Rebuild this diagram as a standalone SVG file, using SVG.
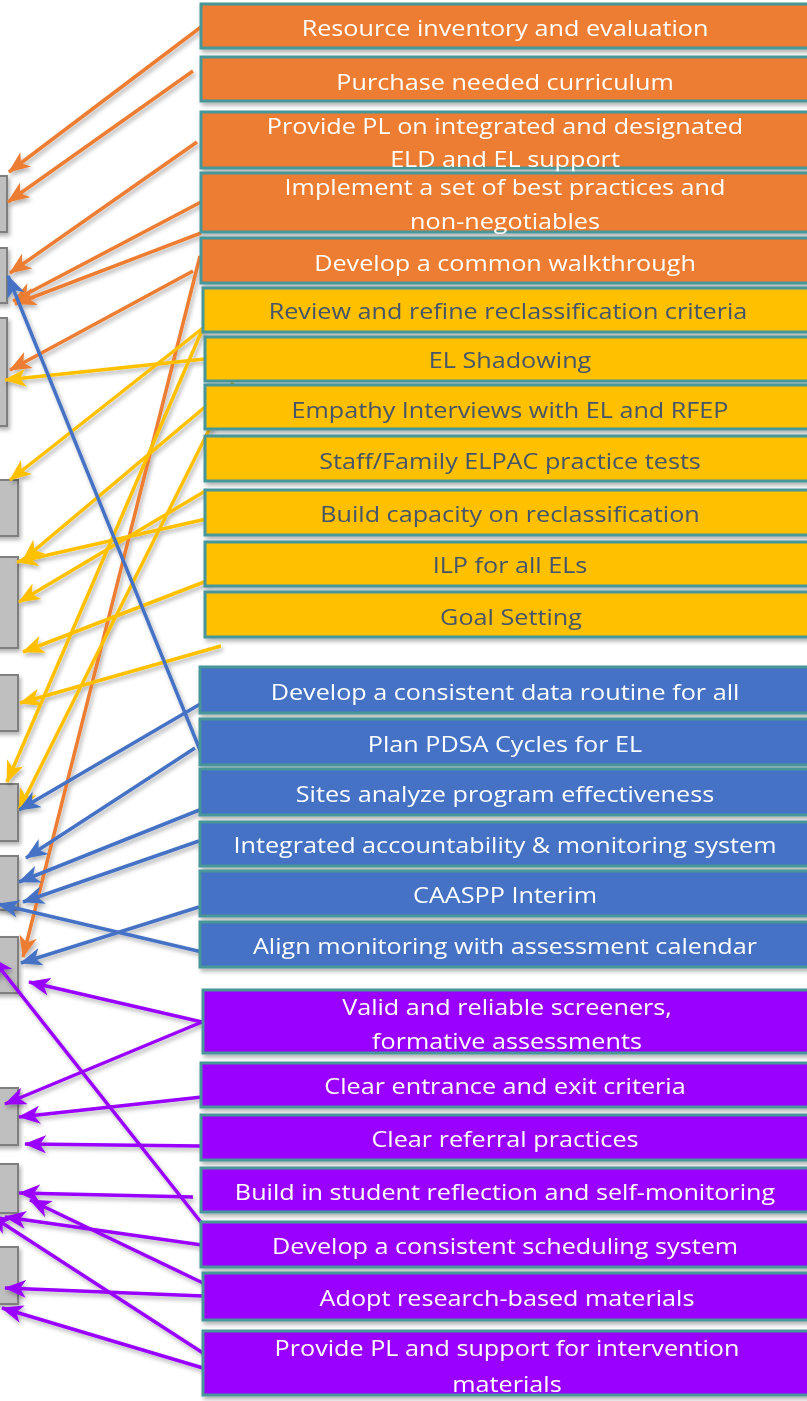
<svg xmlns="http://www.w3.org/2000/svg" width="807" height="1401" viewBox="0 0 807 1401">
  <defs>
    <filter id="shadow" x="-20%" y="-20%" width="140%" height="140%">
      <feDropShadow dx="2" dy="3" stdDeviation="2" flood-color="#000" flood-opacity="0.3"/>
    </filter>
    <marker id="ah-orange" viewBox="0 0 22 18" refX="21" refY="9" markerWidth="22" markerHeight="18" markerUnits="userSpaceOnUse" orient="auto">
      <path d="M0,0 L22,9 L0,18 L6,9 z" fill="#ED7D31"/>
    </marker>
    <marker id="ah-yellow" viewBox="0 0 22 18" refX="21" refY="9" markerWidth="22" markerHeight="18" markerUnits="userSpaceOnUse" orient="auto">
      <path d="M0,0 L22,9 L0,18 L6,9 z" fill="#FFC000"/>
    </marker>
    <marker id="ah-blue" viewBox="0 0 22 18" refX="21" refY="9" markerWidth="22" markerHeight="18" markerUnits="userSpaceOnUse" orient="auto">
      <path d="M0,0 L22,9 L0,18 L6,9 z" fill="#4472C4"/>
    </marker>
    <marker id="ah-purple" viewBox="0 0 22 18" refX="21" refY="9" markerWidth="22" markerHeight="18" markerUnits="userSpaceOnUse" orient="auto">
      <path d="M0,0 L22,9 L0,18 L6,9 z" fill="#9900FF"/>
    </marker>
  </defs>
  <style>
    .target { fill: #BFBFBF; stroke: #7F7F7F; stroke-width: 2; }
    .box { stroke: #46969A; stroke-width: 3; }
    .orange { fill: #ED7D31; }
    .yellow { fill: #FFC000; }
    .blue { fill: #4472C4; }
    .purple { fill: #9900FF; }
    .lbl { font-family: "Open Sans", "Liberation Sans", sans-serif; font-size: 22.5px; text-anchor: middle; fill: #FFFFFF; }
    .dark { fill: #44546A; }
    .c { fill: none; stroke-width: 3.5; }
    .co { stroke: #ED7D31; marker-end: url(#ah-orange); }
    .cy { stroke: #FFC000; marker-end: url(#ah-yellow); }
    .cb { stroke: #4472C4; marker-end: url(#ah-blue); }
    .cp { stroke: #9900FF; marker-end: url(#ah-purple); }
  </style>
  <rect width="807" height="1401" fill="#FFFFFF"/>

  <!-- grey target boxes along the left edge -->
  <g id="targets" filter="url(#shadow)">
    <rect id="t1" class="target" x="-10" y="176" width="17" height="56"/>
    <rect id="t2" class="target" x="-10" y="248" width="17" height="55"/>
    <rect id="t3" class="target" x="-10" y="318" width="17" height="108"/>
    <rect id="t4" class="target" x="-10" y="480" width="28" height="56"/>
    <rect id="t5" class="target" x="-10" y="557" width="28" height="91"/>
    <rect id="t6" class="target" x="-10" y="675" width="28" height="56"/>
    <rect id="t7" class="target" x="-10" y="784" width="28" height="57"/>
    <rect id="t8" class="target" x="-10" y="856" width="28" height="54"/>
    <rect id="t9" class="target" x="-10" y="937" width="28" height="56"/>
    <rect id="t10" class="target" x="-10" y="1088" width="28" height="57"/>
    <rect id="t11" class="target" x="-10" y="1164" width="28" height="49"/>
    <rect id="t12" class="target" x="-10" y="1247" width="28" height="57"/>
  </g>

  <!-- connectors -->
  <g id="connectors" filter="url(#shadow)">
    <path class="c co" d="M201,27 L9,172"/>
    <path class="c co" d="M193,71 L8,202"/>
    <path class="c co" d="M197,142 L10,273"/>
    <path class="c co" d="M201,202 L13,301"/>
    <path class="c co" d="M201,233 L15,304"/>
    <path class="c co" d="M193,271 L10,370"/>
    <path class="c co" d="M200,256 L23,957"/>

    <path class="c cy" d="M203,328 L10,480"/>
    <path class="c cy" d="M205,359 L5,380"/>
    <path class="c cy" d="M203,328 L7,782"/>
    <path class="c cy" d="M205,407 L23,560"/>
    <path class="c cy" d="M233,382 L19,810"/>
    <path class="c cy" d="M207,490 L19,602"/>
    <path class="c cy" d="M215,517 L17,562"/>
    <path class="c cy" d="M217,577 L23,652"/>
    <path class="c cy" d="M221,646 L20,703"/>

    <path class="c cb" d="M202,755 L8,276"/>
    <path class="c cb" d="M202,703 L19,810"/>
    <path class="c cb" d="M195,748 L26,858"/>
    <path class="c cb" d="M202,809 L19,882"/>
    <path class="c cb" d="M199,841 L23,902"/>
    <path class="c cb" d="M202,952 L-2,904"/>
    <path class="c cb" d="M199,907 L21,963"/>

    <path class="c cp" d="M202,1022 L29,982"/>
    <path class="c cp" d="M202,1022 L5,1104"/>
    <path class="c cp" d="M202,1097 L19,1117"/>
    <path class="c cp" d="M200,1146 L25,1144"/>
    <path class="c cp" d="M193,1197 L19,1193"/>
    <path class="c cp" d="M215,1240 L-8,958"/>
    <path class="c cp" d="M202,1245 L5,1217"/>
    <path class="c cp" d="M203,1283 L30,1200"/>
    <path class="c cp" d="M203,1296 L5,1288"/>
    <path class="c cp" d="M203,1353 L-10,1215"/>
    <path class="c cp" d="M203,1368 L2,1308"/>
  </g>

  <!-- orange actions -->
  <g id="n-resource" filter="url(#shadow)">
    <rect class="box orange" x="201" y="4" width="620" height="44"/>
    <text class="lbl" transform="translate(505 0) scale(1.12 1)" x="0" y="36">Resource inventory and evaluation</text>
  </g>
  <g id="n-purchase" filter="url(#shadow)">
    <rect class="box orange" x="201" y="57" width="620" height="44"/>
    <text class="lbl" transform="translate(505 0) scale(1.12 1)" x="0" y="90">Purchase needed curriculum</text>
  </g>
  <g id="n-provide-pl" filter="url(#shadow)">
    <rect class="box orange" x="201" y="112" width="620" height="56"/>
    <text class="lbl" transform="translate(505 0) scale(1.12 1)" x="0" y="134">Provide PL on integrated and designated</text>
    <text class="lbl" transform="translate(505 0) scale(1.12 1)" x="0" y="167">ELD and EL support</text>
  </g>
  <g id="n-implement" filter="url(#shadow)">
    <rect class="box orange" x="201" y="173" width="620" height="59"/>
    <text class="lbl" transform="translate(505 0) scale(1.12 1)" x="0" y="195">Implement a set of best practices and</text>
    <text class="lbl" transform="translate(505 0) scale(1.12 1)" x="0" y="229">non-negotiables</text>
  </g>
  <g id="n-walkthrough" filter="url(#shadow)">
    <rect class="box orange" x="201" y="238" width="620" height="45"/>
    <text class="lbl" transform="translate(505 0) scale(1.12 1)" x="0" y="271">Develop a common walkthrough</text>
  </g>

  <!-- yellow actions -->
  <g id="n-review" filter="url(#shadow)">
    <rect class="box yellow" x="203" y="288" width="620" height="44"/>
    <text class="lbl dark" transform="translate(508 0) scale(1.12 1)" x="0" y="319">Review and refine reclassification criteria</text>
  </g>
  <g id="n-shadowing" filter="url(#shadow)">
    <rect class="box yellow" x="205" y="337" width="620" height="44"/>
    <text class="lbl dark" transform="translate(510 0) scale(1.12 1)" x="0" y="368">EL Shadowing</text>
  </g>
  <g id="n-empathy" filter="url(#shadow)">
    <rect class="box yellow" x="205" y="385" width="620" height="44"/>
    <text class="lbl dark" transform="translate(510 0) scale(1.12 1)" x="0" y="418">Empathy Interviews with EL and RFEP</text>
  </g>
  <g id="n-elpac" filter="url(#shadow)">
    <rect class="box yellow" x="205" y="436" width="620" height="45"/>
    <text class="lbl dark" transform="translate(510 0) scale(1.12 1)" x="0" y="469">Staff/Family ELPAC practice tests</text>
  </g>
  <g id="n-capacity" filter="url(#shadow)">
    <rect class="box yellow" x="205" y="490" width="620" height="45"/>
    <text class="lbl dark" transform="translate(510 0) scale(1.12 1)" x="0" y="522">Build capacity on reclassification</text>
  </g>
  <g id="n-ilp" filter="url(#shadow)">
    <rect class="box yellow" x="205" y="542" width="620" height="44"/>
    <text class="lbl dark" transform="translate(510 0) scale(1.12 1)" x="0" y="573">ILP for all ELs</text>
  </g>
  <g id="n-goal" filter="url(#shadow)">
    <rect class="box yellow" x="205" y="592" width="620" height="45"/>
    <text class="lbl dark" transform="translate(511 0) scale(1.12 1)" x="0" y="625">Goal Setting</text>
  </g>

  <!-- blue actions -->
  <g id="n-data-routine" filter="url(#shadow)">
    <rect class="box blue" x="200" y="667" width="620" height="46"/>
    <text class="lbl" transform="translate(505 0) scale(1.12 1)" x="0" y="700">Develop a consistent data routine for all</text>
  </g>
  <g id="n-pdsa" filter="url(#shadow)">
    <rect class="box blue" x="200" y="719" width="620" height="46"/>
    <text class="lbl" transform="translate(505 0) scale(1.12 1)" x="0" y="752">Plan PDSA Cycles for EL</text>
  </g>
  <g id="n-sites" filter="url(#shadow)">
    <rect class="box blue" x="200" y="769" width="620" height="46"/>
    <text class="lbl" transform="translate(505 0) scale(1.12 1)" x="0" y="802">Sites analyze program effectiveness</text>
  </g>
  <g id="n-accountability" filter="url(#shadow)">
    <rect class="box blue" x="200" y="822" width="620" height="44"/>
    <text class="lbl" transform="translate(505 0) scale(1.12 1)" x="0" y="853">Integrated accountability &amp; monitoring system</text>
  </g>
  <g id="n-caaspp" filter="url(#shadow)">
    <rect class="box blue" x="200" y="871" width="620" height="45"/>
    <text class="lbl" transform="translate(505 0) scale(1.12 1)" x="0" y="903">CAASPP Interim</text>
  </g>
  <g id="n-align" filter="url(#shadow)">
    <rect class="box blue" x="200" y="922" width="620" height="45"/>
    <text class="lbl" transform="translate(505 0) scale(1.12 1)" x="0" y="954">Align monitoring with assessment calendar</text>
  </g>

  <!-- purple actions -->
  <g id="n-screeners" filter="url(#shadow)">
    <rect class="box purple" x="203" y="990" width="620" height="63"/>
    <text class="lbl" transform="translate(507 0) scale(1.12 1)" x="0" y="1015">Valid and reliable screeners,</text>
    <text class="lbl" transform="translate(507 0) scale(1.12 1)" x="0" y="1049">formative assessments</text>
  </g>
  <g id="n-entrance" filter="url(#shadow)">
    <rect class="box purple" x="201" y="1063" width="620" height="44"/>
    <text class="lbl" transform="translate(505 0) scale(1.12 1)" x="0" y="1094">Clear entrance and exit criteria</text>
  </g>
  <g id="n-referral" filter="url(#shadow)">
    <rect class="box purple" x="201" y="1115" width="620" height="45"/>
    <text class="lbl" transform="translate(505 0) scale(1.12 1)" x="0" y="1147">Clear referral practices</text>
  </g>
  <g id="n-reflection" filter="url(#shadow)">
    <rect class="box purple" x="201" y="1168" width="620" height="44"/>
    <text class="lbl" transform="translate(505 0) scale(1.12 1)" x="0" y="1200">Build in student reflection and self-monitoring</text>
  </g>
  <g id="n-scheduling" filter="url(#shadow)">
    <rect class="box purple" x="201" y="1222" width="620" height="45"/>
    <text class="lbl" transform="translate(505 0) scale(1.12 1)" x="0" y="1254">Develop a consistent scheduling system</text>
  </g>
  <g id="n-materials" filter="url(#shadow)">
    <rect class="box purple" x="203" y="1273" width="620" height="47"/>
    <text class="lbl" transform="translate(507 0) scale(1.12 1)" x="0" y="1306">Adopt research-based materials</text>
  </g>
  <g id="n-intervention" filter="url(#shadow)">
    <rect class="box purple" x="203" y="1331" width="620" height="64"/>
    <text class="lbl" transform="translate(507 0) scale(1.12 1)" x="0" y="1356">Provide PL and support for intervention</text>
    <text class="lbl" transform="translate(507 0) scale(1.12 1)" x="0" y="1392">materials</text>
  </g>
</svg>
